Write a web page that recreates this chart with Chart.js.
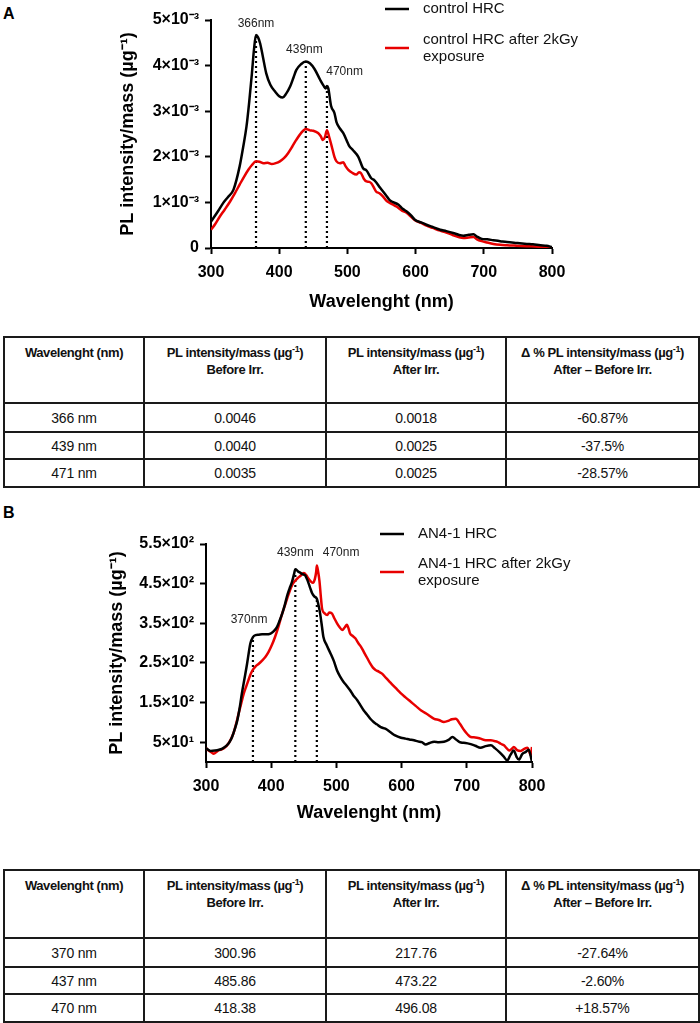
<!DOCTYPE html>
<html>
<head>
<meta charset="utf-8">
<script src="https://cdn.jsdelivr.net/npm/chart.js@4.4.1/dist/chart.umd.min.js"></script>
<style>
  body { margin: 0; background: #fff; width: 700px; height: 1023px; position: relative; overflow: hidden; }
  .panel { position: absolute; left: 3px; font: bold 16px "Liberation Sans", Arial, sans-serif; }
  canvas { position: absolute; left: 0; }
  table { position: absolute; left: 3px; width: 695px; border-collapse: collapse; table-layout: fixed; }
  td { border: 2px solid #1a1a1a; text-align: center; padding: 0; color: #111; }
  th { border: 2px solid #1a1a1a; text-align: center; vertical-align: top; padding: 6px 1px 0 1px; white-space: nowrap;
       font: bold 13px "Liberation Sans", Arial, sans-serif; letter-spacing: -0.4px; line-height: 17px; color: #111; }
  td { font: 14px "Liberation Sans", Arial, sans-serif; letter-spacing: -0.2px; }
  sup { font-size: 9px; line-height: 0; }
</style>
</head>
<body>
<div class="panel" style="top:5px">A</div>
<canvas id="chartA" width="700" height="315" style="top:0"></canvas>
<table id="tableA" style="top:336px"></table>
<div class="panel" style="top:504px">B</div>
<canvas id="chartB" width="700" height="305" style="top:520px"></canvas>
<table id="tableB" style="top:869px"></table>

<script>
// ---- panel A data (values in PL intensity/mass) ----
var wlA_ctrl = [300,310,318,325,333,342,347,352,356,360,363,366,369,372,376,381,387,394,400,405,410,416,421,425,432,439,445,452,460,465,468,470,472,476,481,484,489,494,503,508,516,523,528,535,540,548,556,562,575,581,587,593,599,608,616,625,636,645,655,663,670,678,685,690,697,705,714,724,734,748,763,772,783,792,800];
var plA_ctrl = [0.58,0.80,0.99,1.12,1.28,1.79,2.20,2.66,3.20,3.83,4.35,4.67,4.62,4.49,4.20,3.83,3.58,3.43,3.33,3.30,3.38,3.54,3.74,3.90,4.03,4.09,4.05,3.92,3.69,3.56,3.50,3.55,3.50,3.12,2.96,2.76,2.62,2.52,2.23,2.15,2.00,1.75,1.70,1.53,1.48,1.32,1.17,1.05,0.95,0.86,0.80,0.72,0.62,0.56,0.51,0.46,0.40,0.37,0.33,0.29,0.27,0.29,0.30,0.25,0.20,0.19,0.17,0.15,0.13,0.11,0.09,0.08,0.06,0.05,0.02].map(function (v) { return v / 1000; });
var wlA_irr = [300,306,313,320,328,335,342,348,355,360,366,371,377,383,389,395,401,407,413,419,425,432,439,445,450,457,461,464,467,470,473,477,481,484,489,494,497,501,507,513,517,520,524,528,532,535,539,542,547,552,557,562,567,572,580,587,593,599,608,616,625,636,645,655,663,670,678,685,690,697,705,714,724,734,748,763,780,800];
var plA_irr = [0.40,0.52,0.69,0.84,1.02,1.20,1.39,1.55,1.72,1.82,1.90,1.89,1.86,1.87,1.84,1.86,1.90,1.97,2.08,2.22,2.37,2.52,2.61,2.58,2.57,2.52,2.45,2.37,2.43,2.58,2.45,2.23,2.00,1.90,1.86,1.88,1.80,1.72,1.65,1.61,1.66,1.64,1.52,1.46,1.45,1.42,1.32,1.24,1.20,1.13,1.04,0.99,0.95,0.91,0.82,0.77,0.69,0.61,0.55,0.49,0.44,0.38,0.34,0.28,0.24,0.22,0.23,0.24,0.19,0.15,0.12,0.09,0.07,0.06,0.05,0.04,0.03,0.01].map(function (v) { return v / 1000; });
var peaksA = [366, 439, 470];
var peakTopsA = [0.00467, 0.00408, 0.00355];
var peakTextA = ['366nm', '439nm', '470nm'];
var yTicksA = [0, 0.001, 0.002, 0.003, 0.004, 0.005];
var yTickLabelsA = ['0', '1×10⁻³', '2×10⁻³', '3×10⁻³', '4×10⁻³', '5×10⁻³'];
var legendA = [['control HRC'], ['control HRC after 2kGy', 'exposure']];

// ---- panel B data ----
var wlB_ctrl = [300,304,307,314,320,325,332,336,340,344,348,352,355,359,363,366,368,372,376,381,386,392,399,404,409,413,417,421,424,428,432,435,437,441,445,448,452,456,460,463,466,470,472,475,478,480,485,491,496,501,506,511,516,521,526,532,537,542,547,552,557,562,568,575,583,590,599,606,612,619,625,631,637,643,650,657,665,672,678,684,691,698,706,713,721,729,737,743,750,756,762,767,772,776,780,785,790,795,800];
var plB_ctrl = [35,30,28,29,31,34,42,50,63,82,105,140,173,210,248,280,299,315,320,321,322,322,324,330,341,357,375,397,417,437,455,474,486,481,477,474,471,457,438,425,418,412,400,375,340,316,295,274,255,231,215,202,192,181,168,156,143,130,120,109,101,95,88,84,75,67,61,59,57,55,52,50,44,48,51,50,51,56,63,56,49,48,45,41,36,40,42,35,25,15,4,18,29,14,6,20,25,31,0];
var wlB_irr = [300,304,308,312,319,327,335,342,346,350,354,358,362,365,368,372,376,381,386,391,396,401,406,411,416,422,427,432,436,440,445,450,454,457,461,464,467,469,470,472,474,476,478,482,486,489,493,497,501,505,509,513,516,519,521,525,529,534,538,542,547,552,556,560,565,570,576,583,590,596,599,606,614,622,630,640,650,657,665,672,677,683,690,696,701,706,713,721,729,737,742,747,752,757,761,765,769,772,777,783,788,793,796,798,800];
var plB_irr = [35,29,25,21,29,34,48,72,95,122,148,173,192,206,220,233,241,248,256,265,278,295,316,341,370,400,425,446,456,463,470,477,471,463,455,452,462,480,496,480,457,420,387,375,371,377,375,362,350,340,333,340,346,335,324,318,312,299,290,278,263,248,238,232,228,223,212,200,188,178,173,163,152,141,130,120,109,106,101,104,108,109,95,80,70,63,62,59,55,55,53,51,46,42,35,29,33,38,30,28,33,36,25,17,38];
var peaksB = [372, 437, 470];
var peakTopsB = [312, 479, 416];
var peakTextB = ['370nm', '439nm', '470nm'];
var yTicksB = [50, 150, 250, 350, 450, 550];
var yTickLabelsB = ['5×10¹', '1.5×10²', '2.5×10²', '3.5×10²', '4.5×10²', '5.5×10²'];
var legendB = [['AN4-1 HRC'], ['AN4-1 HRC after 2kGy', 'exposure']];

var xTicks = [300, 400, 500, 600, 700, 800];

// ---- tables ----
var tblHeader = ['Wavelenght (nm)', 'PL intensity/mass (µg<sup>-1</sup>)<br>Before Irr.', 'PL intensity/mass (µg<sup>-1</sup>)<br>After Irr.', 'Δ % PL intensity/mass (µg<sup>-1</sup>)<br>After – Before Irr.'];
var tA_wl = ['366 nm', '439 nm', '471 nm'];
var tA_before = ['0.0046', '0.0040', '0.0035'];
var tA_after = ['0.0018', '0.0025', '0.0025'];
var tA_delta = ['-60.87%', '-37.5%', '-28.57%'];
var tB_wl = ['370 nm', '437 nm', '470 nm'];
var tB_before = ['300.96', '485.86', '418.38'];
var tB_after = ['217.76', '473.22', '496.08'];
var tB_delta = ['-27.64%', '-2.60%', '+18.57%'];

function pts(xs, ys) {
    return xs.map(function (x, i) { return { x: x, y: ys[i] }; });
}

function buildTable(id, cols, rowHeights) {
    var t = document.getElementById(id);
    var html = '<colgroup><col style="width:140px"><col style="width:182px"><col style="width:180px"><col style="width:193px"></colgroup>';
    html += '<tr style="height:' + rowHeights[0] + 'px">' + tblHeader.map(function (h) { return '<th>' + h + '</th>'; }).join('') + '</tr>';
    for (var r = 0; r < cols[0].length; r++) {
        html += '<tr style="height:' + rowHeights[r + 1] + 'px">';
        cols.forEach(function (c) { html += '<td>' + c[r] + '</td>'; });
        html += '</tr>';
    }
    t.innerHTML = html;
}

// peak labels + legend drawn on the canvas
var extrasPlugin = {
    id: 'extras',
    afterDraw: function (chart, args, opts) {
        var ctx = chart.ctx, xs = chart.scales.x, ys = chart.scales.y;
        ctx.save();
        ctx.fillStyle = '#222';
        ctx.font = '12px "Liberation Sans", Arial, sans-serif';
        ctx.textBaseline = 'middle';
        opts.labels.forEach(function (l, i) {
            ctx.textAlign = opts.labelAlign[i];
            ctx.fillText(l, xs.getPixelForValue(opts.labelX[i]), ys.getPixelForValue(opts.labelY[i]));
        });
        // legend
        ctx.font = '15px "Liberation Sans", Arial, sans-serif';
        ctx.textAlign = 'left';
        opts.legend.forEach(function (lines, i) {
            var y = opts.legendY[i];
            ctx.strokeStyle = chart.data.datasets[i].borderColor;
            ctx.lineWidth = 2.5;
            ctx.beginPath();
            ctx.moveTo(opts.legendX, y);
            ctx.lineTo(opts.legendX + 24, y);
            ctx.stroke();
            ctx.fillStyle = '#111';
            var ty = y - (lines.length - 1) * 8.5;
            lines.forEach(function (s, k) { ctx.fillText(s, opts.legendX + 38, ty + k * 17); });
        });
        ctx.restore();
    }
};

function makeChart(id, cfg) {
    var datasets = [
        { label: cfg.legend[0].join(' '), data: pts(cfg.wl1, cfg.pl1), borderColor: '#000', borderWidth: 2.5, cubicInterpolationMode: 'monotone' },
        { label: cfg.legend[1].join(' '), data: pts(cfg.wl2, cfg.pl2), borderColor: 'rgb(232,0,0)', borderWidth: 2.5, cubicInterpolationMode: 'monotone' }
    ];
    cfg.peaks.forEach(function (p, i) {
        datasets.push({ label: 'peak', data: [{ x: p, y: 0 }, { x: p, y: cfg.peakTops[i] }], borderColor: '#000', borderWidth: 2.2, borderDash: [2, 3], order: 5 });
    });
    var axisFont = { family: '"Liberation Sans", Arial, sans-serif', size: 16, weight: 'bold' };
    return new Chart(document.getElementById(id), {
        type: 'line',
        data: { datasets: datasets },
        options: {
            responsive: false,
            animation: false,
            events: [],
            elements: { point: { radius: 0 } },
            layout: { padding: { top: cfg.top, right: 700 - cfg.right, left: 0, bottom: 0 } },
            plugins: {
                legend: { display: false },
                tooltip: { enabled: false },
                extras: cfg.extras
            },
            scales: {
                x: {
                    type: 'linear', min: 300, max: 800,
                    afterBuildTicks: function (s) { s.ticks = xTicks.map(function (v) { return { value: v }; }); },
                    afterFit: function (s) { s.height = cfg.h - cfg.bottom; },
                    grid: { drawOnChartArea: false, tickLength: 6, tickWidth: 2, tickColor: '#000' },
                    border: { color: '#000', width: 2 },
                    ticks: { color: '#000', font: axisFont, padding: 9, maxRotation: 0 },
                    title: { display: true, text: 'Wavelenght (nm)', color: '#000', font: { family: axisFont.family, size: 18, weight: 'bold' }, padding: { bottom: cfg.xTitlePad, top: 0 } }
                },
                y: {
                    type: 'linear', min: cfg.yMin, max: cfg.yMax,
                    afterBuildTicks: function (s) { s.ticks = cfg.yTicks.map(function (v) { return { value: v }; }); },
                    afterFit: function (s) { s.width = cfg.left; },
                    grid: { drawOnChartArea: false, tickLength: 6, tickWidth: 2, tickColor: '#000' },
                    border: { color: '#000', width: 2 },
                    ticks: {
                        color: '#000', font: axisFont, padding: 6,
                        callback: function (v) { var i = cfg.yTicks.indexOf(v); return i >= 0 ? cfg.yTickLabels[i] : ''; }
                    },
                    title: { display: true, text: 'PL intensity/mass (µg⁻¹)', color: '#000', font: { family: axisFont.family, size: 18, weight: 'bold' }, padding: { top: cfg.yTitlePad, bottom: 0 } }
                }
            }
        },
        plugins: [extrasPlugin]
    });
}

window.onload = function () {
    makeChart('chartA', {
        wl1: wlA_ctrl, pl1: plA_ctrl, wl2: wlA_irr, pl2: plA_irr,
        peaks: peaksA, peakTops: peakTopsA, legend: legendA,
        yMin: 0, yMax: 0.005, yTicks: yTicksA, yTickLabels: yTickLabelsA,
        h: 315, top: 20, bottom: 248, left: 211, right: 552, xTitlePad: 2, yTitlePad: 117,
        extras: {
            labels: peakTextA, labelX: [366, 437, 469], labelY: [0.00493, 0.00434, 0.00386], labelAlign: ['center', 'center', 'left'],
            legend: legendA, legendX: 385, legendY: [9, 48]
        }
    });
    makeChart('chartB', {
        wl1: wlB_ctrl, pl1: plB_ctrl, wl2: wlB_irr, pl2: plB_irr,
        peaks: peaksB, peakTops: peakTopsB, legend: legendB,
        yMin: 0, yMax: 550, yTicks: yTicksB, yTickLabels: yTickLabelsB,
        h: 305, top: 24, bottom: 242, left: 206, right: 532, xTitlePad: 1, yTitlePad: 106,
        extras: {
            labels: peakTextB, labelX: [366, 437, 479], labelY: [358, 527, 527], labelAlign: ['center', 'center', 'left'],
            legend: legendB, legendX: 380, legendY: [14, 52]
        }
    });
    buildTable('tableA', [tA_wl, tA_before, tA_after, tA_delta], [66, 29, 27, 28]);
    buildTable('tableB', [tB_wl, tB_before, tB_after, tB_delta], [68, 29, 27, 28]);
};
</script>
</body>
</html>
